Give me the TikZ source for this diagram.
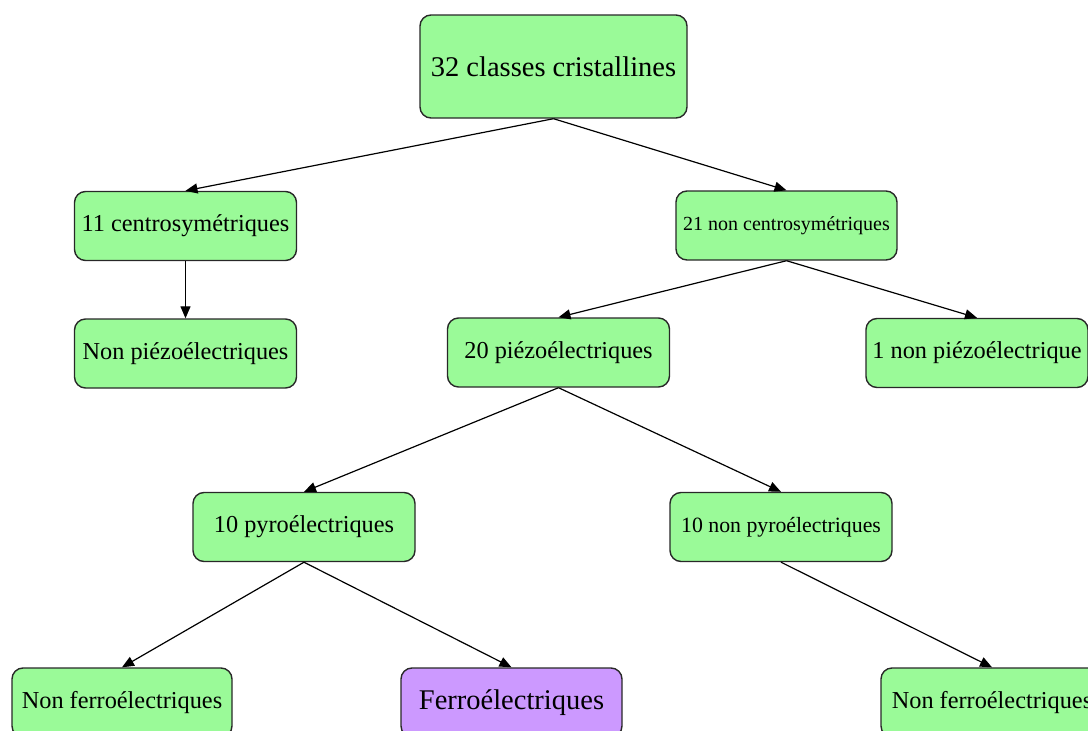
\documentclass[tikz,border=0pt]{standalone}
\usepackage{fontspec}
\setmainfont{Liberation Serif}
\usetikzlibrary{arrows.meta}
\definecolor{boxgreen}{RGB}{154,250,152}
\definecolor{boxpurple}{RGB}{204,153,255}
\definecolor{edgegray}{RGB}{40,40,40}
\tikzset{
  box/.style={draw=edgegray, line width=1.4pt, rounded corners=11pt, fill=boxgreen,
    minimum width=222pt, minimum height=69pt, inner sep=0pt, align=center,
    font=\fontsize{24.3}{28}\selectfont},
  smallbox/.style={box, font=\fontsize{20}{24}\selectfont},
  midbox/.style={box, font=\fontsize{21.8}{26}\selectfont},
  bigbox/.style={box, font=\fontsize{28.5}{32}\selectfont},
  conn/.style={draw=black, line width=1.2pt, -{Triangle[length=12pt,width=10pt]}}
}
\begin{document}
\begin{tikzpicture}[x=1pt,y=-1pt]
\useasboundingbox (0,0) rectangle (1088,731);
\clip (0,0) rectangle (1088,731);
\node[bigbox, minimum width=267pt, minimum height=103pt] (top) at (553.5,66.5) {32 classes cristallines};
\node[box] (centro) at (185.5,226) {11 centrosym\'etriques};
\node[smallbox, minimum width=221pt] (noncentro) at (786.5,225.5) {21 non centrosym\'etriques};
\node[box] (nonpiezo) at (185.5,353.5) {Non pi\'ezo\'electriques};
\node[box] (piezo) at (558.5,352.5) {20 pi\'ezo\'electriques};
\node[box] (unpiezo) at (977,353) {1 non pi\'ezo\'electrique};
\node[box] (pyro) at (304,527) {10 pyro\'electriques};
\node[midbox] (nonpyro) at (781,527) {10 non pyro\'electriques};
\node[box, minimum width=220pt] (nonferroL) at (122,702.5) {Non ferro\'electriques};
\node[bigbox, fill=boxpurple, minimum width=221pt] (ferro) at (511.5,702.5) {Ferro\'electriques};
\node[box] (nonferroR) at (992,702.5) {Non ferro\'electriques};
\draw[conn] (top.south) -- (centro.north);
\draw[conn] (top.south) -- (noncentro.north);
\draw[conn] (centro.south) -- (nonpiezo.north);
\draw[conn] (noncentro.south) -- (piezo.north);
\draw[conn] (noncentro.south) -- (unpiezo.north);
\draw[conn] (piezo.south) -- (pyro.north);
\draw[conn] (piezo.south) -- (nonpyro.north);
\draw[conn] (pyro.south) -- (nonferroL.north);
\draw[conn] (pyro.south) -- (ferro.north);
\draw[conn] (nonpyro.south) -- (nonferroR.north);
\end{tikzpicture}
\end{document}
